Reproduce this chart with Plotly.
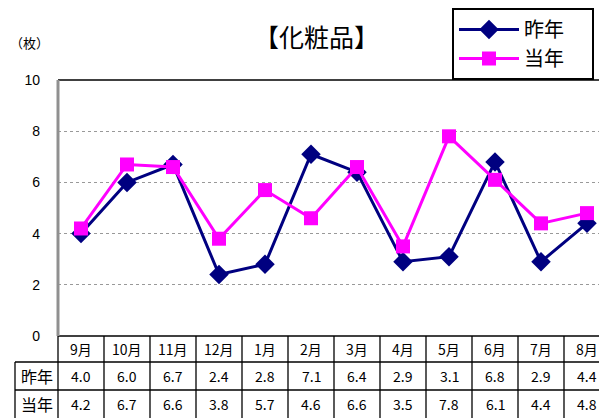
import plotly.graph_objects as go

# ── Data ─────────────────────────────────────────────────────────────────────
months = ["9月", "10月", "11月", "12月", "1月", "2月", "3月", "4月", "5月", "6月", "7月", "8月"]
last_year = [4.0, 6.0, 6.7, 2.4, 2.8, 7.1, 6.4, 2.9, 3.1, 6.8, 2.9, 4.4]
this_year = [4.2, 6.7, 6.6, 3.8, 5.7, 4.6, 6.6, 3.5, 7.8, 6.1, 4.4, 4.8]
series_names = ["昨年", "当年"]
y_ticks = [0, 2, 4, 6, 8, 10]

# ── Geometry (page pixels; the page body adds an 8px offset) ─────────────────
OFF = 8
W, H = 607 - OFF, 418 - OFF
L, T, B = 58, 80, 336          # plot area left / top / bottom on the page
COL = 46                       # table column width
ROWS = [336, 362, 390, 418]    # table row boundaries
LABEL_X0 = 15

FONT = "Noto Sans CJK JP"
PAD = "\u00a0" * 5             # widens the legend box to the right


def px(x):
    return (x - L) / (W + OFF - L)


def py(y):
    return (B - y) / (B - T)


x_idx = list(range(len(months)))
x_max = (W + OFF - L) / COL - 0.5

fig = go.Figure()
fig.add_trace(go.Scatter(
    x=x_idx, y=last_year, name=series_names[0] + PAD, mode="lines+markers",
    line=dict(color="#000080", width=3),
    marker=dict(symbol="diamond", size=15, color="#000080"),
))
fig.add_trace(go.Scatter(
    x=x_idx, y=this_year, name=series_names[1] + PAD, mode="lines+markers",
    line=dict(color="#FF00FF", width=3),
    marker=dict(symbol="square", size=14, color="#FF00FF"),
))

shapes = []
line_k = dict(color="black", width=1.3)
# top border of the plot
shapes.append(dict(type="line", xref="paper", yref="paper", x0=0, x1=1, y0=1, y1=1,
                   line=dict(color="black", width=1.5)))
# table horizontal lines
shapes.append(dict(type="line", xref="paper", yref="paper", x0=0, x1=1,
                   y0=py(ROWS[0]), y1=py(ROWS[0]), line=dict(color="black", width=1.5)))
for r in ROWS[1:3]:
    shapes.append(dict(type="line", xref="paper", yref="paper", x0=px(LABEL_X0), x1=1,
                       y0=py(r), y1=py(r), line=line_k))
# table vertical lines
for i in range(1, len(months) + 1):
    shapes.append(dict(type="line", xref="paper", yref="paper", x0=px(L + COL * i), x1=px(L + COL * i),
                       y0=py(ROWS[0]), y1=py(ROWS[-1]), line=line_k))
shapes.append(dict(type="line", xref="paper", yref="paper", x0=px(L), x1=px(L),
                   y0=py(ROWS[0]), y1=py(ROWS[-1]), line=line_k))
shapes.append(dict(type="line", xref="paper", yref="paper", x0=px(LABEL_X0), x1=px(LABEL_X0),
                   y0=py(ROWS[1]), y1=py(ROWS[-1]), line=line_k))
# left axis (grey, thick)
shapes.append(dict(type="line", xref="paper", yref="paper", x0=0, x1=0, y0=0, y1=1,
                   line=dict(color="#909090", width=3)))

annotations = []
txt = dict(family=FONT, size=14, color="black")
cell = dict(showarrow=False, xanchor="center", yanchor="middle", yref="paper")
row_centers = [(ROWS[k] + ROWS[k + 1]) / 2 for k in range(3)]
for i, m in enumerate(months):
    annotations.append(dict(x=i, xref="x", y=py(row_centers[0]), text=m, font=txt, **cell))
    annotations.append(dict(x=i, xref="x", y=py(row_centers[1]),
                            text=f"{last_year[i]:.1f}", font=txt, **cell))
    annotations.append(dict(x=i, xref="x", y=py(row_centers[2]),
                            text=f"{this_year[i]:.1f}", font=txt, **cell))
for k, name in enumerate(series_names):
    annotations.append(dict(x=px((LABEL_X0 + L) / 2), xref="paper", y=py(row_centers[k + 1]),
                            text=name, font=dict(family=FONT, size=16, color="black"), **cell))
annotations.append(dict(x=px(30), xref="paper", y=py(42), text="（枚）",
                        font=dict(family=FONT, size=13, color="black"), **cell))
annotations.append(dict(x=px(316), xref="paper", y=py(36), text="【化粧品】",
                        font=dict(family=FONT, size=25, color="black"), **cell))

fig.update_layout(
    width=W, height=H,
    margin=dict(l=L - OFF, r=0, t=T - OFF, b=H + OFF - B, autoexpand=False),
    paper_bgcolor="white", plot_bgcolor="white",
    xaxis=dict(range=[-0.5, x_max], showticklabels=False, showgrid=False,
               zeroline=False, showline=False, fixedrange=True, automargin=False),
    yaxis=dict(range=[0, 10], tickvals=y_ticks, showgrid=True, gridcolor="#999999",
               griddash="dot", gridwidth=1, zeroline=False, showline=False, automargin=False,
               ticklabelstandoff=17, tickfont=dict(family="Liberation Sans", size=14, color="black")),
    legend=dict(x=px(452), xanchor="left", y=py(8), yanchor="top",
                bordercolor="black", borderwidth=2, bgcolor="white",
                font=dict(family=FONT, size=20, color="black"),
                itemwidth=60, tracegroupgap=0),
    shapes=shapes, annotations=annotations,
    showlegend=True,
)

fig.write_html("out.html")
